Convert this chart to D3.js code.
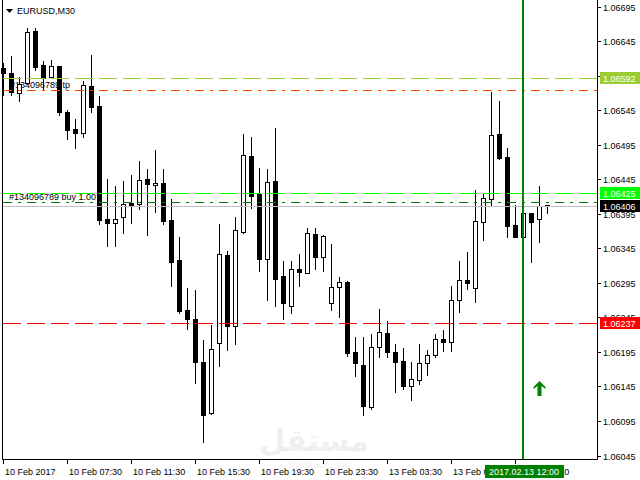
<!DOCTYPE html>
<html>
<head>
<meta charset="utf-8">
<script src="https://cdn.jsdelivr.net/npm/d3@7"></script>
<style>
body{margin:0;background:#fff}
svg{display:block}
text{font-family:"Liberation Sans",Arial,sans-serif;font-size:9px}
</style>
</head>
<body>
<svg id="chart" width="640" height="480"></svg>
<script>
// EURUSD M30, 10 Feb 2017 03:30 .. 13 Feb 2017 13:30 (69 bars)
var opens  = [1.06607,1.06599,1.06570,1.06585,1.06660,1.06611,1.06593,1.06609,1.06542,1.06518,
              1.06513,1.06580,1.06551,1.06388,1.06382,1.06390,1.06411,1.06409,1.06446,1.06437,
              1.06440,1.06386,1.06328,1.06256,1.06243,1.06180,1.06107,1.06208,1.06336,1.06233,
              1.06369,1.06479,1.06424,1.06330,1.06443,1.06305,1.06262,1.06315,1.06310,1.06366,
              1.06332,1.06266,1.06289,1.06296,1.06195,1.06176,1.06115,1.06202,1.06222,1.06195,
              1.06182,1.06146,1.06155,1.06179,1.06191,1.06214,1.06210,1.06271,1.06299,1.06287,
              1.06384,1.06416,1.06511,1.06478,1.06379,1.06361,1.06397,1.06387,1.06408];
var highs  = [1.06614,1.06624,1.06594,1.06664,1.06664,1.06617,1.06618,1.06610,1.06546,1.06533,
              1.06588,1.06625,1.06566,1.06446,1.06436,1.06443,1.06451,1.06472,1.06460,1.06488,
              1.06460,1.06417,1.06362,1.06287,1.06285,1.06212,1.06234,1.06381,1.06341,1.06390,
              1.06511,1.06507,1.06461,1.06460,1.06520,1.06327,1.06327,1.06337,1.06375,1.06375,
              1.06364,1.06351,1.06303,1.06298,1.06216,1.06216,1.06221,1.06257,1.06240,1.06206,
              1.06201,1.06180,1.06206,1.06198,1.06221,1.06227,1.06290,1.06327,1.06340,1.06430,
              1.06424,1.06571,1.06559,1.06490,1.06408,1.06398,1.06397,1.06436,1.06408];
var lows   = [1.06567,1.06567,1.06558,1.06583,1.06603,1.06575,1.06592,1.06539,1.06503,1.06491,
              1.06506,1.06543,1.06380,1.06349,1.06349,1.06368,1.06382,1.06402,1.06365,1.06398,
              1.06380,1.06291,1.06252,1.06228,1.06150,1.06064,1.06105,1.06175,1.06198,1.06207,
              1.06368,1.06404,1.06313,1.06270,1.06261,1.06243,1.06252,1.06290,1.06309,1.06315,
              1.06313,1.06256,1.06245,1.06189,1.06160,1.06104,1.06112,1.06188,1.06188,1.06137,
              1.06141,1.06125,1.06149,1.06162,1.06188,1.06197,1.06197,1.06253,1.06286,1.06268,
              1.06357,1.06406,1.06475,1.06361,1.06361,1.06360,1.06326,1.06355,1.06397];
var closes = [1.06599,1.06571,1.06584,1.06658,1.06608,1.06592,1.06609,1.06543,1.06516,1.06513,
              1.06582,1.06550,1.06386,1.06382,1.06387,1.06409,1.06408,1.06444,1.06439,1.06440,
              1.06385,1.06326,1.06255,1.06243,1.06180,1.06104,1.06200,1.06337,1.06233,1.06372,
              1.06480,1.06421,1.06330,1.06441,1.06301,1.06266,1.06315,1.06311,1.06367,1.06333,
              1.06363,1.06289,1.06296,1.06194,1.06179,1.06116,1.06202,1.06224,1.06195,1.06181,
              1.06146,1.06156,1.06179,1.06190,1.06214,1.06210,1.06270,1.06299,1.06295,1.06385,
              1.06418,1.06509,1.06476,1.06378,1.06362,1.06397,1.06384,1.06407,1.06406];

var priceTicks = [1.06695,1.06645,1.06595,1.06545,1.06495,1.06445,1.06395,
                  1.06345,1.06295,1.06245,1.06195,1.06145,1.06095,1.06045];
var timeLabels = ["10 Feb 2017","10 Feb 07:30","10 Feb 11:30","10 Feb 15:30","10 Feb 19:30",
                  "10 Feb 23:30","13 Feb 03:30","13 Feb 07:30","13 Feb 11:30"];
var timeLabelBars = [0,8,16,24,32,40,48,56,64];

// horizontal levels: take profit, order open, bid, etc.
var levelPrices = [1.06592,1.06575,1.06425,1.06412,1.06406,1.06237];
var levelColors = ["#9acd32","#ff4500","#00ff00","#008000","#c0c0c0","#ff0000"];
var levelStyles = ["dash","dashdot","dash","dashdot","solid","dash"];
var boxPrices = [1.06592,1.06425,1.06406,1.06237];
var boxColors = ["#9acd32","#00ff00","#000000","#ff0000"];

var orderTexts = ["#134096789 tp","#134096789 buy 1.00"];
var orderPrices = [1.06575,1.06412];

var vlineBar = 65, vlineLabel = "2017.02.13 12:00";
var arrowBar = 67, arrowPrice = 1.06153;

var w = 640, h = 480;
var left = 2, right = 597, bottom = 459;

var y = d3.scaleLinear().domain([1.06045,1.06695]).range([455.5,6.9]);
var x = d3.scaleLinear().domain([0,68]).range([3,547]);
var py = function(p){ return Math.round(y(p)); };

var svg = d3.select('#chart');

// watermark
svg.append('text').attr('x',314).attr('y',451).attr('text-anchor','middle')
   .style('font-family','"DejaVu Sans"').style('font-size','30px').style('font-weight','bold')
   .attr('fill','#efefef').text('مستقل');
svg.append('text').attr('x',320).attr('y',468).attr('text-anchor','middle')
   .style('font-size','11px').attr('fill','#f2f2f2').text('mostaql.com');

// order labels (under the candles)
svg.append('g').selectAll('text').data(orderTexts).enter().append('text')
   .attr('x',function(d,i){ return i==0 ? 10 : 9; })
   .attr('y',function(d,i){ return py(orderPrices[i]) - 2; })
   .attr('fill','#000').text(function(d){ return d; });

// candles
var bars = svg.append('g').selectAll('g').data(opens).enter().append('g');
bars.append('line')
    .attr('x1',function(d,i){ return x(i)+0.5; })
    .attr('x2',function(d,i){ return x(i)+0.5; })
    .attr('y1',function(d,i){ return py(highs[i]); })
    .attr('y2',function(d,i){ return py(lows[i])+1; })
    .attr('stroke','#000').attr('stroke-width',1);
bars.append('rect')
    .attr('x',function(d,i){ return x(i)-1.5; })
    .attr('y',function(d,i){ return py(Math.max(opens[i],closes[i]))+0.5; })
    .attr('width',4)
    .attr('height',function(d,i){
      return Math.max(1, py(Math.min(opens[i],closes[i])) - py(Math.max(opens[i],closes[i])));
    })
    .attr('fill',function(d,i){ return closes[i] < opens[i] ? '#000' : '#fff'; })
    .attr('stroke','#000').attr('stroke-width',1);

// level lines
var dashes = {dash:'18,6', dashdot:'9,6,3,6', solid:null};
svg.append('g').selectAll('line').data(levelPrices).enter().append('line')
   .attr('x1',left+1).attr('x2',right)
   .attr('y1',function(d){ return py(d)+0.5; })
   .attr('y2',function(d){ return py(d)+0.5; })
   .attr('stroke',function(d,i){ return levelColors[i]; })
   .attr('stroke-dasharray',function(d,i){ return dashes[levelStyles[i]]; });

// vertical line
svg.append('line').attr('x1',x(vlineBar)).attr('x2',x(vlineBar))
   .attr('y1',0).attr('y2',bottom)
   .attr('stroke','#008000').attr('stroke-width',2);

// arrow
var ax = x(arrowBar)+0.5, ay = py(arrowPrice);
svg.append('path')
   .attr('d','M'+ax+','+ay+' l6,6 v2 l-4,-3 v10 h-4 v-10 l-4,3 v-2 z')
   .attr('fill','#008000');

// frame
svg.append('path')
   .attr('d','M'+(left+0.5)+',0 V'+(bottom+0.5)+' H'+(right+0.5)+' V0')
   .attr('fill','none').attr('stroke','#000');

// price axis
var pa = svg.append('g');
pa.selectAll('line').data(priceTicks).enter().append('line')
  .attr('x1',right+1).attr('x2',right+4)
  .attr('y1',function(d){ return py(d)+0.5; })
  .attr('y2',function(d){ return py(d)+0.5; })
  .attr('stroke','#000');
pa.selectAll('text').data(priceTicks).enter().append('text')
  .attr('x',603).attr('y',function(d){ return py(d)+3.5; })
  .attr('fill','#000').text(function(d){ return d.toFixed(5); });

// price boxes
var pb = svg.append('g').selectAll('g').data(boxPrices).enter().append('g');
pb.append('rect').attr('x',600).attr('y',function(d){ return py(d)-6; })
  .attr('width',40).attr('height',12)
  .attr('fill',function(d,i){ return boxColors[i]; });
pb.append('text').attr('x',603).attr('y',function(d){ return py(d)+3.5; })
  .attr('fill','#fff').text(function(d){ return d.toFixed(5); });

// time axis
var ta = svg.append('g');
ta.selectAll('line').data(timeLabelBars).enter().append('line')
  .attr('x1',function(d){ return x(d)+0.5; })
  .attr('x2',function(d){ return x(d)+0.5; })
  .attr('y1',bottom+1).attr('y2',bottom+5)
  .attr('stroke','#000');
ta.selectAll('text').data(timeLabels).enter().append('text')
  .attr('x',function(d,i){ return x(timeLabelBars[i])+2; })
  .attr('y',475).attr('fill','#000').text(function(d){ return d; });

// time box for the vertical line
var vx = x(vlineBar);
svg.append('rect').attr('x',vx-38).attr('y',465).attr('width',79).attr('height',13)
   .attr('fill','#008000');
svg.append('text').attr('x',vx+1).attr('y',475).attr('text-anchor','middle')
   .attr('fill','#fff').text(vlineLabel);

// symbol title
svg.append('path').attr('d','M6,9 h7 l-3.5,4 z').attr('fill','#000');
svg.append('text').attr('x',17).attr('y',14).attr('fill','#000').text('EURUSD,M30');
</script>
</body>
</html>
